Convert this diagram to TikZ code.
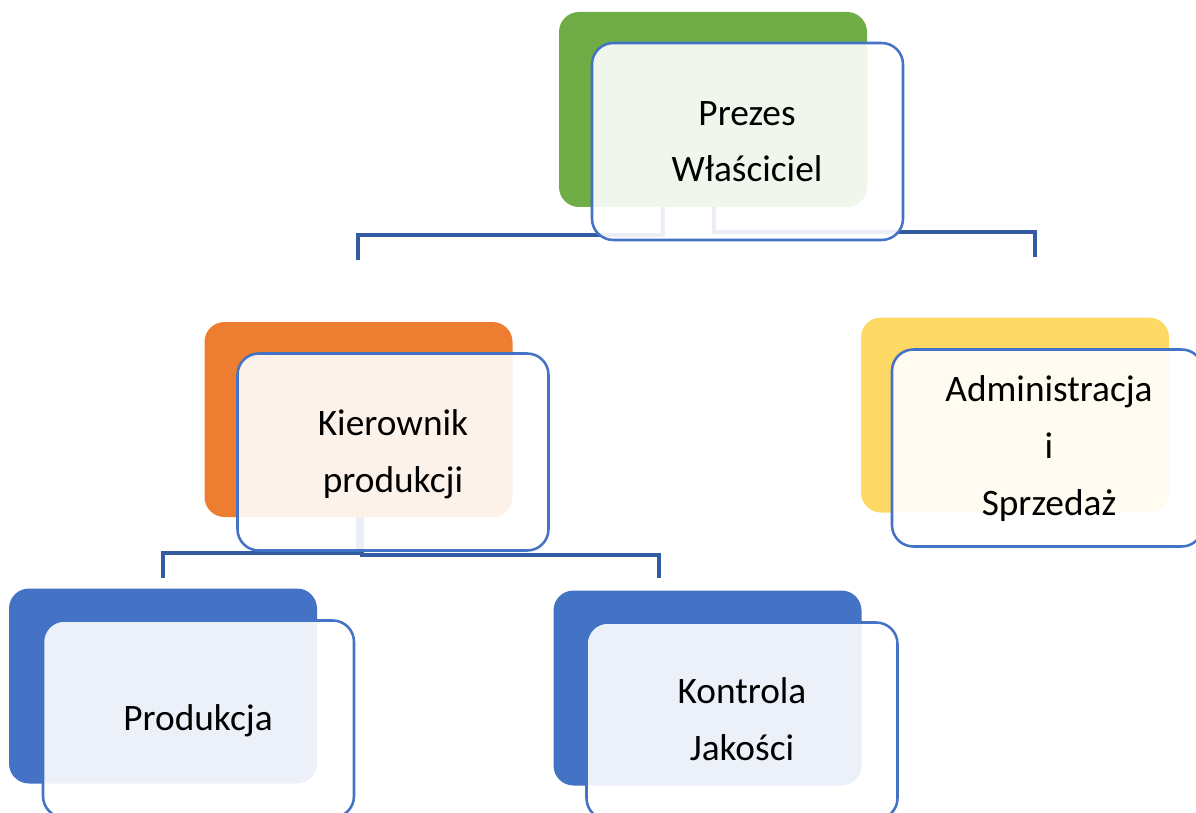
\documentclass[tikz,border=0pt]{standalone}
\usepackage{fontspec}
\setmainfont{Carlito}
\definecolor{greenbox}{HTML}{70AD47}
\definecolor{orangebox}{HTML}{ED7D31}
\definecolor{yellowbox}{HTML}{FFD966}
\definecolor{bluebox}{HTML}{4472C4}
\definecolor{frontline}{HTML}{4472C4}
\definecolor{linkcol}{HTML}{335CA3}
\begin{document}
\begin{tikzpicture}[x=0.75pt,y=-0.75pt,
  backbox/.style={rectangle, rounded corners=15pt, inner sep=0pt,
    minimum width=231pt, minimum height=146.25pt},
  frontbox/.style={rectangle, rounded corners=16pt, inner sep=0pt,
    minimum width=233.25pt, minimum height=147.75pt,
    draw=frontline, line width=1.9pt, fill=white, fill opacity=0.9},
  link/.style={draw=linkcol, line width=2.5pt},
  label/.style={align=center, inner sep=0pt, text=black,
    font=\fontsize{28pt}{42.75pt}\selectfont}]
\useasboundingbox (0,0) rectangle (1196,813);
\clip (0,0) rectangle (1196,813);

% coloured back panels
\node[backbox, fill=greenbox]  (topback)   at (713,109.5)  {};
\node[backbox, fill=orangebox] (midback)   at (358.5,419.5) {};
\node[backbox, fill=yellowbox] (rightback) at (1015,415)   {};
\node[backbox, fill=bluebox]   (prodback)  at (163,686)    {};
\node[backbox, fill=bluebox]   (qualback)  at (707.5,688)  {};

% connector end points
\coordinate (topL)  at (663,207);
\coordinate (topR)  at (714,207);
\coordinate (midIn) at (358,260);
\coordinate (admIn) at (1035,257);
\coordinate (midL)  at (358,517);
\coordinate (midR)  at (362,517);
\coordinate (prodIn) at (163,578);
\coordinate (qualIn) at (659,578);

% tree connectors
\draw[link] (topL) -- ++(0,28) -| (midIn);
\draw[link] (topR) -- ++(0,25) -| (admIn);
\draw[link] (midL) -- ++(0,36) -| (prodIn);
\draw[link] (midR) -- ++(0,38) -| (qualIn);

% translucent front panels
\node[frontbox] (topfront)   at (747.5,141.5) {};
\node[frontbox] (midfront)   at (393,452)     {};
\node[frontbox] (rightfront) at (1047.5,448)  {};
\node[frontbox] (prodfront)  at (198.5,719)   {};
\node[frontbox] (qualfront)  at (742,721)     {};

% captions (base anchor sits on the last line)
\node[label, anchor=base] (toptext)   at (747,182)  {Prezes\\Właściciel};
\node[label, anchor=base] (midtext)   at (393,492)  {Kierownik\\produkcji};
\node[label, anchor=base] (righttext) at (1049,515) {Administracja\\i\\Sprzedaż};
\node[label, anchor=base] (prodtext)  at (198,730)  {Produkcja};
\node[label, anchor=base] (qualtext)  at (742,760)  {Kontrola\\Jakości};
\end{tikzpicture}
\end{document}
